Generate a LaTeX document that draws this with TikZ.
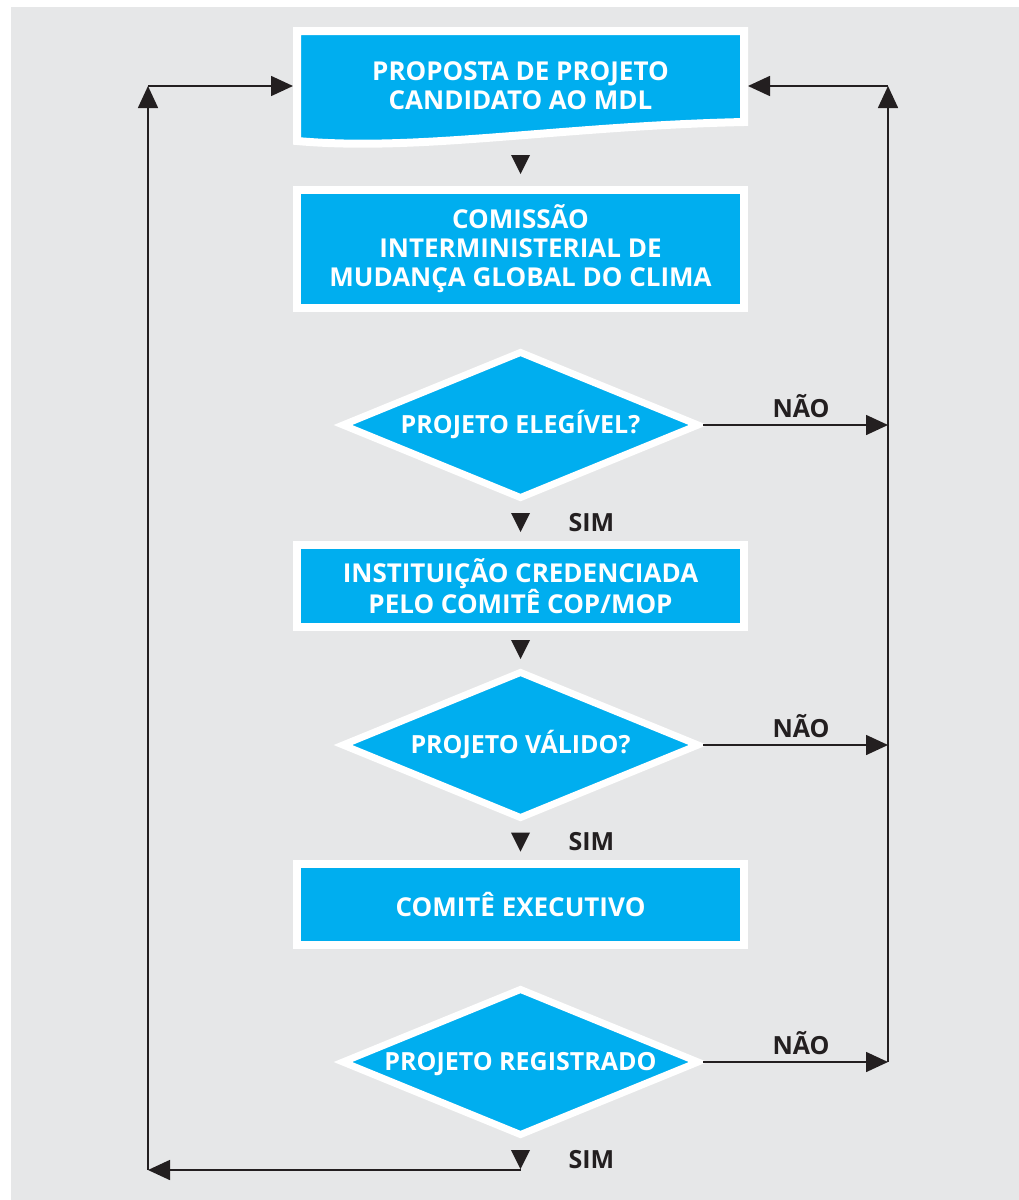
\documentclass[tikz,border=0pt]{standalone}
\usepackage{fontspec}
\setmainfont{Open Sans}
\usetikzlibrary{shapes.geometric,arrows.meta,positioning}
\definecolor{mdlblue}{HTML}{00AEEF}
\definecolor{mdlink}{HTML}{231F20}
\definecolor{mdlgray}{HTML}{E6E7E8}

\tikzset{
  boxtext/.style={text=white,font=\fontsize{26}{29}\selectfont\bfseries,align=center},
  stepbox/.style={rectangle,fill=mdlblue,draw=white,line width=8pt,minimum width=447pt,boxtext},
  decision/.style={diamond,aspect=2.42,fill=mdlblue,draw=white,line width=7pt,
    minimum width=358pt,minimum height=148pt,inner sep=0pt,boxtext,
    font=\fontsize{25}{29}\selectfont\bfseries,text height=17pt,text depth=0pt},
  lbl/.style={text=mdlink,font=\fontsize{25}{28}\selectfont\bfseries},
  flow/.style={draw=mdlink,line width=1.6pt,-{Triangle[length=22pt,width=20pt]}},
  downtip/.pic={\fill[mdlink] (-9.5,-9.5) -- (9.5,-9.5) -- (0,9.5) -- cycle;}
}

\begin{document}
\begin{tikzpicture}[x=1pt,y=-1pt]
  \useasboundingbox (0,0) rectangle (1019,1200);
  \fill[white] (0,0) rectangle (1019,1200);
  \fill[mdlgray] (11,7) rectangle (1019,1200);
  % document shape on top
  \filldraw[fill=mdlblue,draw=white,line width=8pt] (297,31) -- (744,31) -- (744,122)
    .. controls (560,126) and (420,152) .. (297,141) -- cycle;
  \node[boxtext,minimum width=455pt,minimum height=118pt,outer sep=0pt] (prop) at (520.5,86)
    {PROPOSTA DE PROJETO\\CANDIDATO AO MDL};
  \node[stepbox,minimum height=118pt] (cim) at (520.5,249)
    {COMISSÃO\\INTERMINISTERIAL DE\\MUDANÇA GLOBAL DO CLIMA};
  \node[decision] (d1) at (520.5,425) {PROJETO ELEGÍVEL?};
  \node[stepbox,minimum height=82pt] (inst) at (520.5,586)
    {INSTITUIÇÃO CREDENCIADA\\PELO COMITÊ COP/MOP};
  \node[decision] (d2) at (520.5,745) {PROJETO VÁLIDO?};
  \node[stepbox,minimum height=81pt] (exec) at (520.5,904.5) {COMITÊ EXECUTIVO};
  \node[decision] (d3) at (520.5,1062) {PROJETO REGISTRADO};

  \coordinate (rt) at (888,86);
  \coordinate (lt) at (148,86);
  \coordinate (lb) at (148,1170);
  \coordinate (sb) at (520.5,1170);

  \foreach \d in {d1,d2,d3}
    \draw[flow] (\d.east) -- (\d.east -| rt) node[pos=0.53,above=3pt,lbl] (no\d) {NÃO};
  \draw[flow] (d3.east -| rt) -- (rt);
  \draw[flow] (rt) -- (prop.east);
  \draw[flow] (sb) -- (lb);
  \draw[flow] (lb) -- (lt);
  \draw[flow] (lt) -- (prop.west);

  \foreach \y in {164.5,522.5,649.5,842,1159.5}
    \pic at (520.5,\y) {downtip};
  \foreach \y [count=\i] in {522.5,842,1160}
    \node[lbl] (sim\i) at (591.5,\y) {SIM};
\end{tikzpicture}
\end{document}
